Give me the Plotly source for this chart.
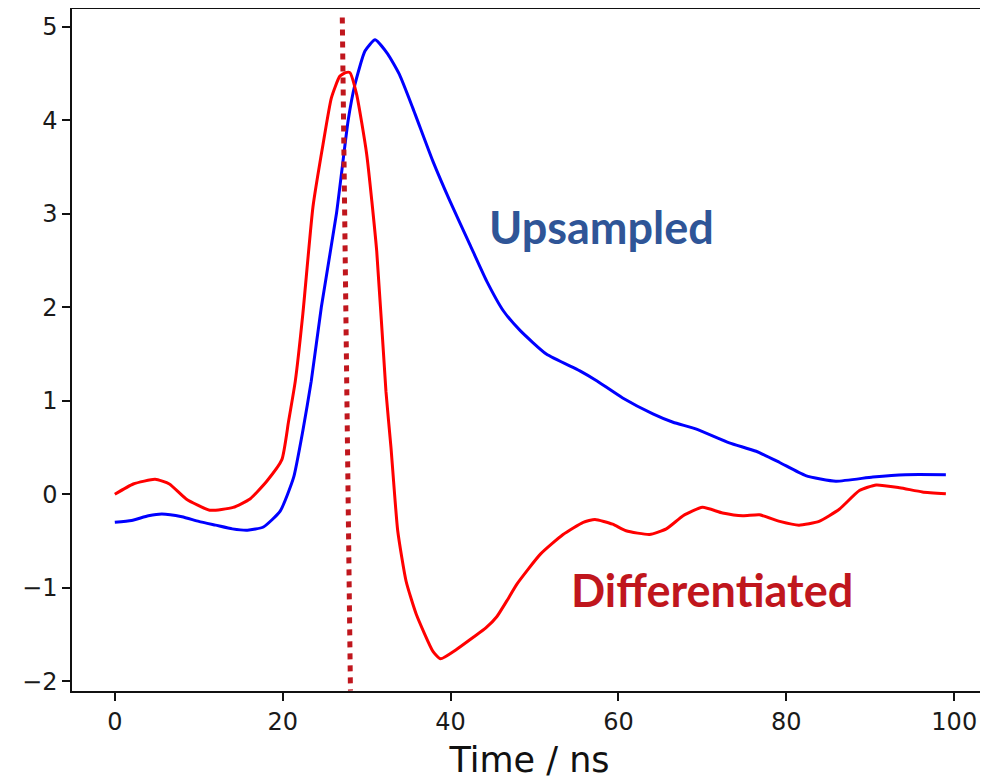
import plotly.graph_objects as go

# Upsampled signal (blue)
up_x = [0, 2, 4, 5.6, 8, 10, 12, 14, 15.8, 17.7, 19.7, 21.3, 22.4, 23.4, 24.6, 26.4, 27.8, 28.6, 29.8,
        31.0, 32.5, 33.9, 35.5, 37.9, 39.9, 42.3, 44.3, 46.3, 48.3, 51.4, 55.4, 57.3, 60.5, 64.1, 66.5,
        69.2, 73.2, 76.4, 79.2, 82.3, 85.9, 90.3, 94.2, 99]
up_y = [-0.30, -0.28, -0.23, -0.21, -0.24, -0.29, -0.33, -0.37, -0.385, -0.35, -0.18, 0.18, 0.68, 1.21,
        2.0, 3.0, 4.0, 4.38, 4.74, 4.86, 4.71, 4.49, 4.13, 3.56, 3.14, 2.67, 2.28, 1.96, 1.75, 1.50, 1.32,
        1.22, 1.03, 0.86, 0.77, 0.70, 0.55, 0.46, 0.34, 0.20, 0.14, 0.185, 0.21, 0.21]

# Differentiated signal (red)
diff_x = [0, 2.2, 4.8, 6.5, 8.5, 11.3, 14.1, 16.1, 18.1, 19.9, 20.7, 21.5, 22.4, 23.6, 24.8, 25.8, 26.8,
          27.5, 28.0, 28.8, 30.0, 31.2, 32.3, 32.9, 33.7, 34.7, 35.9, 37.9, 38.8, 40.7, 42.7, 44.2, 45.5,
          46.7, 47.9, 50.7, 53.4, 55.8, 57.2, 59.3, 60.9, 63.7, 65.7, 67.7, 70.0, 72.4, 74.8, 76.8, 79.2,
          81.5, 83.9, 86.3, 88.7, 90.7, 93.5, 96.2, 99]
diff_y = [0.0, 0.11, 0.16, 0.11, -0.05, -0.17, -0.14, -0.05, 0.14, 0.37, 0.78, 1.21, 1.93, 3.07, 3.74,
          4.24, 4.47, 4.51, 4.51, 4.28, 3.64, 2.60, 1.10, 0.50, -0.39, -0.93, -1.28, -1.68, -1.76, -1.66,
          -1.53, -1.43, -1.31, -1.14, -0.96, -0.64, -0.43, -0.30, -0.27, -0.32, -0.39, -0.43, -0.37,
          -0.23, -0.14, -0.20, -0.23, -0.22, -0.29, -0.33, -0.29, -0.16, 0.04, 0.10, 0.07, 0.025, 0.005]

# Peak marker (dotted line)
marker_x = [27.1, 28.07]
marker_y = [5.10, -2.10]

# Labels
label_text = ["Upsampled", "Differentiated"]
label_x = [58.0, 71.1]
label_y = [2.86, -1.02]
label_colors = ["#2F5597", "#C0161D"]

x_ticks = [0, 20, 40, 60, 80, 100]
y_ticks = [-2, -1, 0, 1, 2, 3, 4, 5]

fig = go.Figure()
fig.add_trace(go.Scatter(x=up_x, y=up_y, mode="lines",
                         line=dict(color="#0000FF", width=3, shape="spline", smoothing=0.5),
                         showlegend=False))
fig.add_trace(go.Scatter(x=diff_x, y=diff_y, mode="lines",
                         line=dict(color="#FF0000", width=3, shape="spline", smoothing=0.5),
                         showlegend=False))
fig.add_trace(go.Scatter(x=marker_x, y=marker_y, mode="lines",
                         line=dict(color="#C0161D", width=5, dash="6px,6px"),
                         showlegend=False))

for t, x, y, c in zip(label_text, label_x, label_y, label_colors):
    fig.add_annotation(x=x, y=y, text="<b>" + t + "</b>", showarrow=False,
                       font=dict(family="Lato", size=45, color=c),
                       xanchor="center", yanchor="middle")

axis_common = dict(showline=True, linecolor="#111111", linewidth=1.5, mirror=True,
                   ticks="outside", ticklen=8, tickwidth=1.5, tickcolor="#111111",
                   showgrid=False, zeroline=False, automargin=False,
                   tickfont=dict(family="DejaVu Sans", size=24, color="#1a1a1a"))

fig.update_xaxes(range=[-5.1, 103.9], tickvals=x_ticks,
                 title=dict(text="Time / ns", font=dict(family="DejaVu Sans", size=35, color="#111111"),
                            standoff=13),
                 **axis_common)
fig.update_yaxes(range=[-2.104, 5.19], tickvals=y_ticks, **axis_common)

# page body adds an 8px offset; figure sized to fit the remaining window
fig.update_layout(width=980, height=772, margin=dict(l=64, r=1, t=1, b=89),
                  plot_bgcolor="white", paper_bgcolor="white")

fig.write_html("out.html")
